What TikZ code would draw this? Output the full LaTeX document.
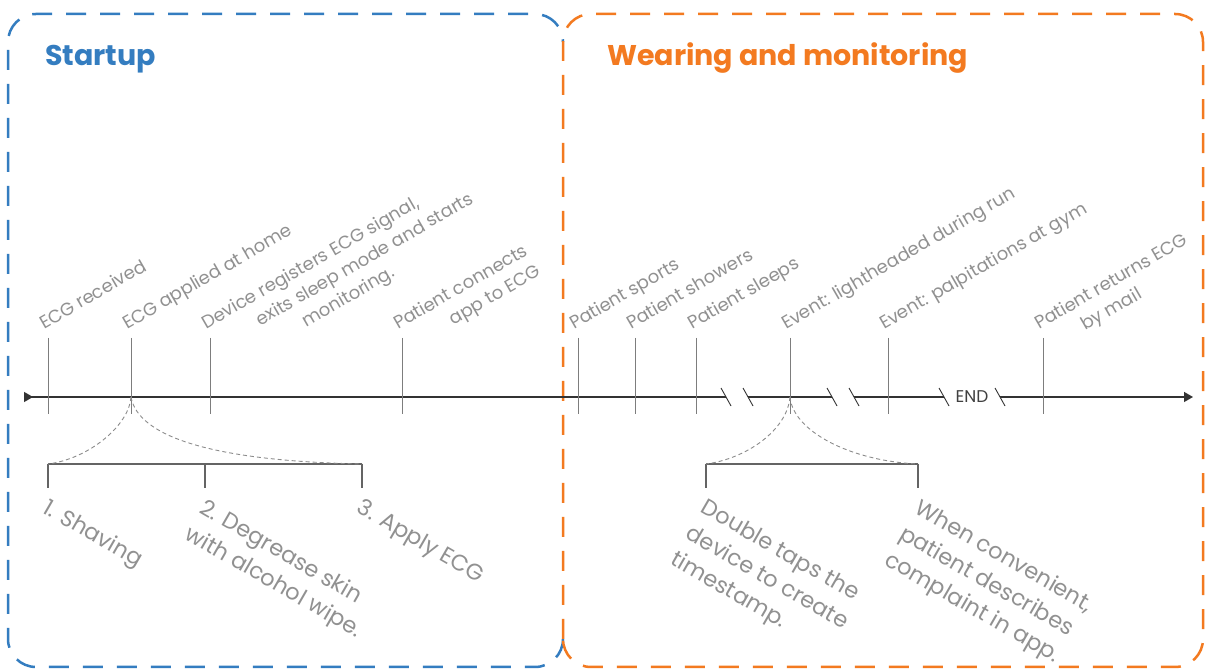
\documentclass[tikz,border=0pt]{standalone}
\usepackage{fontspec}
\setmainfont{Poppins}
\usetikzlibrary{arrows.meta,calc}
\definecolor{sblue}{RGB}{52,125,192}
\definecolor{sorange}{RGB}{243,122,32}
\definecolor{lbl}{RGB}{145,145,145}
\definecolor{tk}{RGB}{125,125,125}
\definecolor{brk}{RGB}{100,100,100}
\begin{document}
\begin{tikzpicture}[x=1pt,y=1pt,
  box/.style={line width=2.5pt, dash pattern=on 20pt off 14pt, rounded corners=28pt},
  title/.style={font=\fontsize{28.5}{32}\selectfont\bfseries, anchor=base west, inner sep=0},
  toplbl/.style={font=\fontsize{18}{24}\selectfont, text=lbl, rotate=30, anchor=north west, align=left, inner sep=0},
  botlbl/.style={font=\fontsize{22.5}{30}\selectfont, text=lbl, rotate=-30, anchor=north west, align=left, inner sep=0},
  tickline/.style={draw=tk, line width=0.9pt},
  axisline/.style={draw=black!80, line width=1.3pt},
  brkline/.style={draw=brk, line width=1.4pt},
  curveline/.style={draw=black!45, line width=0.9pt, dash pattern=on 4pt off 3pt},
  slashline/.style={draw=black!80, line width=0.9pt}]
\useasboundingbox (0,0) rectangle (1206,671);
\fill[white] (0,0) rectangle (1206,671);

% boxes
\draw[box, sblue] (563,32) -- (563,4) -- (8,4) -- (8,657) -- (563,657) -- (563,629);
\draw[box, sorange] (563,4) rectangle (1203,657);

% titles
\node[title, text=sblue] (t1) at (45,605) {Startup};
\node[title, text=sorange] (t2) at (607,605) {Wearing and monitoring};

% axis
\coordinate (axL) at (24,274);
\coordinate (b1a) at (726,274); \coordinate (b1b) at (748,274);
\coordinate (b2a) at (832,274); \coordinate (b2b) at (854,274);
\coordinate (b3a) at (944,274); \coordinate (b3b) at (1000,274);
\coordinate (axR) at (1193,274);
\draw[axisline, {Triangle[reversed,length=9pt,width=10pt]}-] (axL) -- (b1a);
\draw[axisline] (b1b) -- (b2a);
\draw[axisline] (b2b) -- (b3a);
\draw[axisline, -{Triangle[length=9pt,width=10pt]}] (b3b) -- (axR);
\foreach \c in {726,748,832,854,944,1000}
  \draw[slashline] (\c-5,283) -- (\c+5,265);
\node[font=\fontsize{17}{17}\selectfont, text=black!75, inner sep=0] (endlbl) at (972,274) {END};

% ticks
\foreach \x in {48,131,210,402,578,635,696,790,888,1043}
  \draw[tickline] (\x,333) -- (\x,257);

% top labels
\node[toplbl] (l1) at (37,353) {ECG received};
\node[toplbl] (l2) at (120,353) {ECG applied at home};
\node[toplbl] (l3) at (199,353) {Device registers ECG signal,\\\hspace*{2.7em}exits sleep mode and starts\\\hspace*{4.9em}monitoring.};
\node[toplbl] (l4) at (391,353) {Patient connects\\\hspace*{2.8em}app to ECG};
\node[toplbl] (l5) at (567,353) {Patient sports};
\node[toplbl] (l6) at (624,353) {Patient showers};
\node[toplbl] (l7) at (685,353) {Patient sleeps};
\node[toplbl] (l8) at (779,353) {Event: lightheaded during run};
\node[toplbl] (l9) at (877,353) {Event: palpitations at gym};
\node[toplbl] (l10) at (1032,353) {Patient returns ECG\\\hspace*{2.2em}by mail};

% left bracket
\coordinate (p2) at (131,274);
\coordinate (s1) at (48,207); \coordinate (s3) at (362,207);
\draw[brkline] (s1) -- (s3);
\foreach \x in {48,205,362} \draw[brkline] (\x,207) -- (\x,183);
\draw[curveline] (p2) .. controls (129,245) and (88,212) .. (s1);
\draw[curveline] (p2) .. controls (138,235) and (210,210) .. (s3);

% right bracket
\coordinate (p8) at (790,274);
\coordinate (r1) at (706,207); \coordinate (r2) at (918,207);
\draw[brkline] (r1) -- (r2);
\foreach \x in {706,918} \draw[brkline] (\x,207) -- (\x,183);
\draw[curveline] (p8) .. controls (787,240) and (745,212) .. (r1);
\draw[curveline] (p8) .. controls (793,240) and (850,210) .. (r2);

% bottom labels
\node[botlbl] (d1) at (50,174) {1. Shaving};
\node[botlbl] (d2) at (207,174) {2. Degrease skin\\with alcohol wipe.};
\node[botlbl] (d3) at (364,174) {3. Apply ECG};
\node[botlbl] (d4) at (708,174) {Double taps the\\device to create\\timestamp.};
\node[botlbl] (d5) at (922,174) {When convenient,\\patient describes\\complaint in app.};
\end{tikzpicture}
\end{document}
